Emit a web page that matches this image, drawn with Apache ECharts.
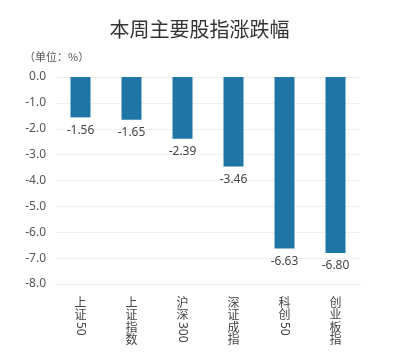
<!DOCTYPE html>
<html><head><meta charset="utf-8">
<script src="https://cdn.jsdelivr.net/npm/echarts@6/dist/echarts.min.js"></script>
<style>html,body{margin:0;padding:0;background:#fff}#c{width:399px;height:352px}</style>
</head><body><div id="c"></div>
<script>
const categories = ['上证50', '上证指数', '沪深300', '深证成指', '科创50', '创业板指'];
const values = [-1.56, -1.65, -2.39, -3.46, -6.63, -6.80];
const yTicks = [-8, -7, -6, -5, -4, -3, -2, -1, 0];
// split each category into upright CJK chars and rotated digits (vertical writing)
const cjkPart = categories.map(c => c.replace(/[0-9]+/g, '').split('').join('\n'));
const numPart = categories.map(c => (c.match(/[0-9]+/) || [''])[0]);
const chart = echarts.init(document.getElementById('c'));
chart.setOption({
  backgroundColor: '#fff',
  animation: false,
  title: { text: '本周主要股指涨跌幅', left: 'center', top: 14,
    textStyle: { fontSize: 20, fontWeight: 'normal', color: '#333', fontFamily: 'Noto Sans CJK SC' } },
  graphic: [{ type: 'text', left: 24, top: 51, style: { text: '（单位：%）', fontSize: 11, fill: '#555', fontFamily: 'Noto Sans CJK SC' } }],
  grid: { left: 55, right: 38, top: 77, bottom: 68 },
  xAxis: [
    { type: 'category', data: cjkPart, position: 'bottom',
      axisLine: { onZero: false, lineStyle: { color: '#eee' } }, axisTick: { show: false },
      axisLabel: { color: '#444', fontSize: 12, lineHeight: 12.5, margin: 12, interval: 0, fontFamily: 'Noto Sans CJK SC' } },
    { type: 'category', data: numPart, position: 'bottom',
      axisLine: { show: false, onZero: false }, axisTick: { show: false },
      axisLabel: { color: '#444', fontSize: 12, rotate: -90, margin: 38, interval: 0, fontFamily: 'Noto Sans' } }
  ],
  yAxis: { type: 'value', min: yTicks[0], max: yTicks[yTicks.length - 1], interval: 1,
    axisLabel: { formatter: v => v.toFixed(1), color: '#555', fontSize: 12, margin: 9, fontFamily: 'Noto Sans' },
    splitLine: { lineStyle: { color: '#f0f0f0' } }, axisLine: { show: false }, axisTick: { show: false } },
  series: [{ type: 'bar', data: values, barWidth: 20, itemStyle: { color: '#1f76a6' },
    label: { show: true, position: 'bottom', formatter: p => p.value.toFixed(2), color: '#444', fontSize: 12, distance: 7, fontFamily: 'Noto Sans' } }]
});
</script></body></html>
